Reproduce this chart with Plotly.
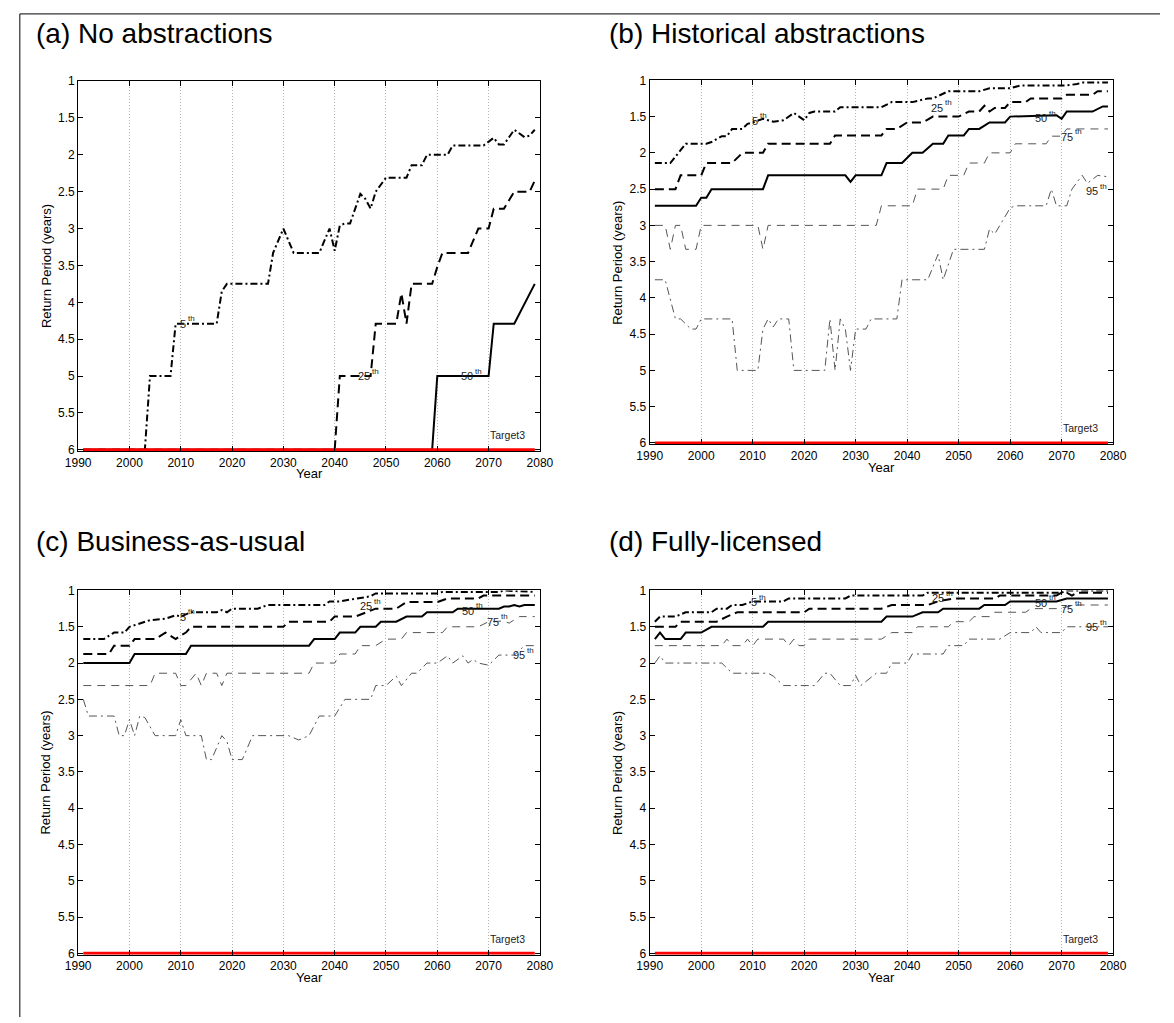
import plotly.graph_objects as go

# ------------------------------------------------------------------
# DATA  (return period in years; vertices of
# each percentile curve, 30-year moving window results)
# ------------------------------------------------------------------
YEAR_TICKS = [1990, 2000, 2010, 2020, 2030, 2040, 2050, 2060, 2070, 2080]
RP_TICKS = [1, 1.5, 2, 2.5, 3, 3.5, 4, 4.5, 5, 5.5, 6]
RP_TICK_LABELS = ["1", "1.5", "2", "2.5", "3", "3.5", "4", "4.5", "5", "5.5", "6"]

PANEL_TITLES = ["(a) No abstractions", "(b) Historical abstractions",
                "(c) Business-as-usual", "(d) Fully-licensed"]
PERCENTILES = ["5", "25", "50", "75", "95"]
ORDINAL_SUFFIX = "th"

TARGET_NAME = "Target3"
TARGET_YEARS = [1991, 2079]
TARGET_RP = [6, 6]

# ---- (a) No abstractions ----
A_P5_YEARS = [1991, 2003, 2004, 2008, 2009, 2017, 2018, 2019, 2027, 2028, 2030, 2032, 2037, 2039, 2040,
              2041, 2042, 2043, 2045, 2046, 2047, 2048, 2050, 2054, 2055, 2057, 2058, 2062, 2063, 2069,
              2071, 2072, 2073, 2075, 2077, 2078, 2079]
A_P5_RP = [6, 6, 5, 5, 4.29, 4.29, 3.85, 3.75, 3.75, 3.33, 3.0, 3.33, 3.33, 3.0, 3.3,
           2.96, 2.93, 2.93, 2.53, 2.6, 2.73, 2.5, 2.31, 2.31, 2.14, 2.14, 2.0, 2.0, 1.875, 1.875,
           1.77, 1.86, 1.86, 1.66, 1.76, 1.74, 1.66]
A_P25_YEARS = [1991, 2040, 2041, 2047, 2048, 2052, 2053, 2054, 2055, 2059, 2060, 2061, 2066, 2068,
               2070, 2071, 2073, 2075, 2078, 2079]
A_P25_RP = [6, 6, 5, 5, 4.29, 4.29, 3.88, 4.29, 3.75, 3.75, 3.52, 3.33, 3.33, 3.0,
            3.0, 2.73, 2.73, 2.5, 2.5, 2.35]
A_P50_YEARS = [1991, 2059, 2060, 2070, 2071, 2075, 2079]
A_P50_RP = [6, 6, 5, 5, 4.29, 4.29, 3.75]
A_P75_YEARS = [1991, 2079]
A_P75_RP = [6, 6]
A_P95_YEARS = [1991, 2079]
A_P95_RP = [6, 6]

# ---- (b) Historical abstractions ----
B_P5_YEARS = [1991, 1994, 1997, 2001, 2002, 2004, 2005, 2006, 2008, 2009, 2010, 2012, 2013, 2014,
              2016, 2018, 2020, 2021, 2022, 2026, 2027, 2035, 2037, 2041, 2044, 2045, 2048, 2054,
              2056, 2060, 2062, 2069, 2071, 2073, 2074, 2079]
B_P5_RP = [2.14, 2.14, 1.875, 1.875, 1.85, 1.77, 1.77, 1.67, 1.67, 1.6, 1.58, 1.53, 1.55, 1.57,
           1.55, 1.45, 1.55, 1.45, 1.43, 1.43, 1.37, 1.37, 1.3, 1.3, 1.25, 1.25, 1.15, 1.15,
           1.11, 1.11, 1.07, 1.07, 1.07, 1.05, 1.03, 1.03]
B_P25_YEARS = [1991, 1995, 1996, 2000, 2001, 2006, 2008, 2012, 2013, 2025, 2026, 2035, 2036, 2038,
               2040, 2043, 2045, 2050, 2052, 2054, 2055, 2056, 2057, 2059, 2060, 2063, 2064, 2070,
               2071, 2076, 2077, 2079]
B_P25_RP = [2.5, 2.5, 2.31, 2.31, 2.14, 2.14, 2.0, 2.0, 1.875, 1.875, 1.76, 1.76, 1.67, 1.67,
            1.58, 1.58, 1.5, 1.5, 1.43, 1.43, 1.35, 1.43, 1.38, 1.38, 1.3, 1.3, 1.25, 1.25,
            1.2, 1.2, 1.15, 1.15]
B_P50_YEARS = [1991, 1999, 2000, 2001, 2002, 2012, 2013, 2028, 2029, 2030, 2035, 2036, 2039, 2041,
               2043, 2045, 2047, 2048, 2051, 2052, 2054, 2056, 2059, 2060, 2069, 2070, 2071, 2076,
               2078, 2079]
B_P50_RP = [2.73, 2.73, 2.62, 2.62, 2.5, 2.5, 2.31, 2.31, 2.4, 2.31, 2.31, 2.14, 2.14, 2.0,
            2.0, 1.875, 1.875, 1.76, 1.76, 1.67, 1.67, 1.58, 1.58, 1.5, 1.48, 1.53, 1.43, 1.43,
            1.36, 1.36]
B_P75_YEARS = [1991, 1993, 1994, 1995, 1996, 1997, 1999, 2000, 2011, 2012, 2013, 2034, 2035, 2041,
               2042, 2047, 2048, 2051, 2052, 2055, 2056, 2060, 2061, 2067, 2068, 2070, 2071, 2079]
B_P75_RP = [3.0, 3.0, 3.33, 3.0, 3.0, 3.33, 3.33, 3.0, 3.0, 3.33, 3.0, 3.0, 2.73, 2.73,
            2.5, 2.5, 2.31, 2.31, 2.14, 2.14, 2.0, 2.0, 1.875, 1.875, 1.77, 1.77, 1.67, 1.67]
B_P95_YEARS = [1991, 1993, 1995, 1996, 1998, 1999, 2000, 2006, 2007, 2011, 2012, 2013, 2014, 2015,
               2017, 2018, 2024, 2025, 2026, 2027, 2028, 2029, 2030, 2032, 2033, 2038, 2039, 2044,
               2046, 2047, 2049, 2055, 2056, 2057, 2060, 2061, 2067, 2068, 2069, 2071, 2072, 2074,
               2075, 2077, 2079]
B_P95_RP = [3.75, 3.75, 4.29, 4.29, 4.43, 4.43, 4.29, 4.29, 5.0, 5.0, 4.43, 4.29, 4.4, 4.29,
            4.29, 5.0, 5.0, 4.29, 5.0, 4.29, 4.43, 5.0, 4.43, 4.43, 4.29, 4.29, 3.75, 3.75,
            3.4, 3.75, 3.33, 3.33, 3.05, 3.12, 2.76, 2.73, 2.73, 2.5, 2.73, 2.73, 2.5, 2.31,
            2.42, 2.31, 2.33]

# ---- (c) Business-as-usual ----
C_P5_YEARS = [1991, 1995, 1997, 1999, 2000, 2002, 2004, 2007, 2009, 2010, 2012, 2017, 2018, 2019,
              2020, 2025, 2027, 2038, 2039, 2041, 2044, 2047, 2048, 2060, 2061, 2072, 2073, 2079]
C_P5_RP = [1.67, 1.67, 1.58, 1.58, 1.5, 1.45, 1.41, 1.39, 1.34, 1.36, 1.3, 1.3, 1.27, 1.3,
           1.25, 1.25, 1.2, 1.2, 1.15, 1.15, 1.12, 1.08, 1.04, 1.04, 1.02, 1.02, 1.0, 1.02]
C_P25_YEARS = [1991, 1996, 1997, 2000, 2001, 2005, 2007, 2009, 2010, 2011, 2012, 2030, 2031, 2039,
               2040, 2044, 2048, 2052, 2054, 2060, 2062, 2068, 2069, 2079]
C_P25_RP = [1.875, 1.875, 1.76, 1.76, 1.67, 1.67, 1.58, 1.67, 1.62, 1.58, 1.5, 1.5, 1.43, 1.43,
            1.36, 1.36, 1.25, 1.25, 1.16, 1.16, 1.11, 1.11, 1.07, 1.07]
C_P50_YEARS = [1991, 2000, 2001, 2011, 2012, 2035, 2036, 2040, 2041, 2044, 2045, 2048, 2049, 2052,
               2054, 2057, 2058, 2063, 2064, 2072, 2073, 2074, 2075, 2076, 2077, 2079]
C_P50_RP = [2.0, 2.0, 1.875, 1.875, 1.76, 1.76, 1.67, 1.67, 1.58, 1.58, 1.5, 1.5, 1.43, 1.43,
            1.36, 1.36, 1.3, 1.3, 1.25, 1.25, 1.22, 1.22, 1.2, 1.22, 1.2, 1.2]
C_P75_YEARS = [1991, 2004, 2005, 2009, 2010, 2011, 2013, 2014, 2015, 2017, 2018, 2019, 2035, 2036,
               2040, 2041, 2044, 2045, 2048, 2050, 2053, 2054, 2061, 2062, 2068, 2070, 2073, 2074,
               2076, 2079]
C_P75_RP = [2.31, 2.31, 2.14, 2.14, 2.31, 2.31, 2.14, 2.31, 2.14, 2.14, 2.31, 2.14, 2.14, 2.0,
            2.0, 1.875, 1.875, 1.76, 1.76, 1.67, 1.67, 1.58, 1.58, 1.5, 1.5, 1.43, 1.42, 1.45,
            1.36, 1.36]
C_P95_YEARS = [1991, 1992, 1997, 1998, 1999, 2000, 2001, 2002, 2003, 2005, 2009, 2010, 2011, 2014,
               2015, 2016, 2018, 2019, 2020, 2022, 2024, 2031, 2033, 2035, 2037, 2040, 2042, 2047,
               2048, 2050, 2052, 2053, 2055, 2056, 2058, 2060, 2062, 2063, 2065, 2066, 2067, 2068,
               2070, 2072, 2075, 2077, 2079]
C_P95_RP = [2.5, 2.73, 2.73, 3.0, 3.0, 2.78, 3.0, 2.73, 2.75, 3.0, 3.0, 2.78, 3.0, 3.0,
            3.33, 3.33, 3.0, 3.08, 3.33, 3.33, 3.0, 3.0, 3.06, 3.0, 2.73, 2.73, 2.5, 2.5,
            2.31, 2.31, 2.18, 2.31, 2.14, 2.14, 2.0, 2.0, 1.9, 2.0, 1.9, 2.0, 1.95, 2.0,
            2.03, 1.89, 1.89, 1.76, 1.76]

# ---- (d) Fully-licensed ----
D_P5_YEARS = [1991, 1992, 1995, 1997, 2002, 2003, 2005, 2006, 2008, 2010, 2016, 2017, 2028, 2029,
              2043, 2044, 2070, 2071, 2079]
D_P5_RP = [1.43, 1.36, 1.36, 1.3, 1.3, 1.25, 1.25, 1.2, 1.2, 1.15, 1.15, 1.11, 1.11, 1.07,
           1.07, 1.03, 1.03, 1.0, 1.0]
D_P25_YEARS = [1991, 1995, 1996, 2003, 2005, 2007, 2020, 2021, 2035, 2037, 2044, 2046, 2049, 2057,
               2058, 2069, 2070, 2071, 2072, 2073, 2079]
D_P25_RP = [1.5, 1.5, 1.43, 1.43, 1.36, 1.3, 1.3, 1.25, 1.25, 1.2, 1.2, 1.15, 1.11, 1.11,
            1.07, 1.07, 1.03, 1.03, 1.07, 1.03, 1.03]
D_P50_YEARS = [1991, 1992, 1993, 1996, 1997, 2000, 2002, 2012, 2013, 2035, 2036, 2041, 2043, 2046,
               2047, 2054, 2055, 2059, 2060, 2069, 2071, 2079]
D_P50_RP = [1.67, 1.58, 1.67, 1.67, 1.58, 1.58, 1.5, 1.5, 1.43, 1.43, 1.36, 1.36, 1.3, 1.3,
            1.25, 1.25, 1.2, 1.2, 1.15, 1.15, 1.11, 1.11]
D_P75_YEARS = [1991, 2004, 2005, 2006, 2008, 2009, 2010, 2011, 2016, 2017, 2018, 2019, 2020, 2021,
               2035, 2037, 2041, 2042, 2048, 2049, 2052, 2053, 2056, 2057, 2063, 2064, 2069, 2071,
               2073, 2079]
D_P75_RP = [1.76, 1.76, 1.67, 1.76, 1.76, 1.67, 1.76, 1.67, 1.67, 1.76, 1.67, 1.76, 1.76, 1.67,
            1.67, 1.58, 1.58, 1.5, 1.5, 1.43, 1.43, 1.36, 1.36, 1.3, 1.3, 1.25, 1.25, 1.22,
            1.2, 1.2]
D_P95_YEARS = [1991, 1992, 1993, 2004, 2006, 2013, 2014, 2016, 2022, 2024, 2025, 2027, 2029, 2030,
               2031, 2034, 2036, 2037, 2040, 2041, 2047, 2048, 2051, 2052, 2058, 2060, 2064, 2065,
               2066, 2070, 2071, 2079]
D_P95_RP = [2.0, 1.9, 2.0, 2.0, 2.14, 2.14, 2.18, 2.31, 2.31, 2.14, 2.14, 2.31, 2.31, 2.17,
            2.31, 2.14, 2.14, 2.0, 2.0, 1.875, 1.875, 1.76, 1.76, 1.67, 1.67, 1.58, 1.58, 1.5,
            1.58, 1.58, 1.5, 1.5]

PANEL_SERIES = [
    [(A_P5_YEARS, A_P5_RP), (A_P25_YEARS, A_P25_RP), (A_P50_YEARS, A_P50_RP),
     (A_P75_YEARS, A_P75_RP), (A_P95_YEARS, A_P95_RP)],
    [(B_P5_YEARS, B_P5_RP), (B_P25_YEARS, B_P25_RP), (B_P50_YEARS, B_P50_RP),
     (B_P75_YEARS, B_P75_RP), (B_P95_YEARS, B_P95_RP)],
    [(C_P5_YEARS, C_P5_RP), (C_P25_YEARS, C_P25_RP), (C_P50_YEARS, C_P50_RP),
     (C_P75_YEARS, C_P75_RP), (C_P95_YEARS, C_P95_RP)],
    [(D_P5_YEARS, D_P5_RP), (D_P25_YEARS, D_P25_RP), (D_P50_YEARS, D_P50_RP),
     (D_P75_YEARS, D_P75_RP), (D_P95_YEARS, D_P95_RP)],
]

# ------------------------------------------------------------------
# STYLE / LAYOUT
# ------------------------------------------------------------------
W, H = 1174, 1023
FONT = "Liberation Sans, Arial, Helvetica, sans-serif"

LINE_STYLE = {
    "5": dict(color="black", width=2, dash="7px,3px,2px,3px"),
    "25": dict(color="black", width=2, dash="9px,5px"),
    "50": dict(color="black", width=2, dash="solid"),
    "75": dict(color="#555555", width=1, dash="8px,6px"),
    "95": dict(color="#555555", width=1, dash="8px,4px,2px,4px"),
}

# plot-area boxes in pixels (left, right, top, bottom)
BOXES = [(66.7, 539.3, 75, 450), (651.7, 1126, 74.3, 443),
         (66.7, 539.3, 591, 960), (651.7, 1126, 591, 960)]
TITLE_POS = [(22, 27), (608, 27), (22, 541), (608, 541)]

# percentile label anchor points (year, return period) per panel
LABEL_POS = [
    {"5": (2011.3, 4.29), "25": (2046.6, 5.0), "50": (2066.6, 5.0)},
    {"5": (2011.2, 1.56), "25": (2046.6, 1.38), "50": (2066.8, 1.52), "75": (2071.9, 1.78), "95": (2076.8, 2.53)},
    {"5": (2011.2, 1.36), "25": (2047.0, 1.22), "50": (2066.8, 1.28), "75": (2071.7, 1.43), "95": (2076.8, 1.89)},
    {"5": (2011.0, 1.16), "25": (2046.8, 1.11), "50": (2066.8, 1.17), "75": (2071.8, 1.25), "95": (2076.8, 1.51)},
]
TARGET_LABEL_POS = (2073.7, 5.8)
LABEL_SIZE = 11
SUP_SIZE = 8

fig = go.Figure()
annotations = []
shapes = []

for i in range(4):
    n = "" if i == 0 else str(i + 1)
    xa, ya = "x" + n, "y" + n
    left, right, top, bottom = BOXES[i]
    xdom = [left / W, right / W]
    ydom = [1 - bottom / H, 1 - top / H]

    for (years, rp), p in zip(PANEL_SERIES[i][::-1], PERCENTILES[::-1]):
        fig.add_trace(go.Scatter(x=years, y=rp, mode="lines", line=LINE_STYLE[p],
                                 xaxis=xa, yaxis=ya, showlegend=False, hoverinfo="skip"))
    fig.add_trace(go.Scatter(x=TARGET_YEARS, y=TARGET_RP, mode="lines",
                             line=dict(color="#ff0000", width=3), xaxis=xa, yaxis=ya,
                             showlegend=False, hoverinfo="skip"))

    common = dict(ticks="inside", ticklen=5, tickcolor="black", tickwidth=1,
                  showline=True, linecolor="black", linewidth=1, mirror="ticks",
                  zeroline=False, fixedrange=True,
                  tickfont=dict(family=FONT, size=12, color="black"))
    fig.layout["xaxis" + n] = dict(domain=xdom, anchor=ya, range=[1990, 2080],
                                   tickmode="array", tickvals=YEAR_TICKS,
                                   ticktext=[str(v) for v in YEAR_TICKS],
                                   showgrid=True, gridcolor="#b4b4b4", griddash="1px,2px",
                                   gridwidth=1, **common)
    fig.layout["yaxis" + n] = dict(domain=ydom, anchor=xa, range=[6.02, 1],
                                   tickmode="array", tickvals=RP_TICKS, ticktext=RP_TICK_LABELS,
                                   showgrid=False, **common)

    # panel title
    tx, ty = TITLE_POS[i]
    annotations.append(dict(text=PANEL_TITLES[i], xref="paper", yref="paper",
                            x=tx / W, y=1 - ty / H, xanchor="left", yanchor="middle",
                            showarrow=False, font=dict(family=FONT, size=28, color="black")))
    # axis titles
    annotations.append(dict(text="Year", xref="paper", yref="paper",
                            x=(left + right) / 2 / W, y=1 - (bottom + 23) / H,
                            xanchor="center", yanchor="middle", showarrow=False,
                            font=dict(family=FONT, size=13, color="black")))
    annotations.append(dict(text="Return Period (years)", xref="paper", yref="paper",
                            x=(left - 33) / W, y=1 - (top + bottom) / 2 / H, textangle=-90,
                            xanchor="center", yanchor="middle", showarrow=False,
                            font=dict(family=FONT, size=13, color="black")))
    # percentile labels: number + raised ordinal suffix
    for p, (lx, ly) in LABEL_POS[i].items():
        num_w = LABEL_SIZE * 0.556 * len(p)
        suf_w = SUP_SIZE * 0.834
        shift = (num_w - suf_w) / 2
        annotations.append(dict(text=p, xref=xa, yref=ya, x=lx, y=ly, xshift=shift,
                                xanchor="right", yanchor="middle", showarrow=False, borderpad=0,
                                font=dict(family=FONT, size=LABEL_SIZE, color="#222222")))
        annotations.append(dict(text=ORDINAL_SUFFIX, xref=xa, yref=ya, x=lx, y=ly, xshift=shift,
                                yshift=5, xanchor="left", yanchor="middle", showarrow=False,
                                borderpad=0,
                                font=dict(family=FONT, size=SUP_SIZE, color="#222222")))
    annotations.append(dict(text=TARGET_NAME, xref=xa, yref=ya, x=TARGET_LABEL_POS[0],
                            y=TARGET_LABEL_POS[1], xanchor="center", yanchor="middle",
                            showarrow=False, font=dict(family=FONT, size=10.5, color="#222222")))

# outer figure frame (top and left edges visible)
shapes.append(dict(type="line", xref="paper", yref="paper", x0=7 / W, x1=1, y0=1 - 7 / H, y1=1 - 7 / H,
                   line=dict(color="black", width=1)))
shapes.append(dict(type="line", xref="paper", yref="paper", x0=7 / W, x1=7 / W, y0=0, y1=1 - 7 / H,
                   line=dict(color="black", width=1)))

fig.update_layout(width=W, height=H, margin=dict(l=0, r=0, t=0, b=0),
                  paper_bgcolor="white", plot_bgcolor="white",
                  font=dict(family=FONT, color="black"),
                  annotations=annotations, shapes=shapes, showlegend=False)

fig.write_html("out.html", config={"displayModeBar": False},
               post_script="document.body.style.margin='0px';document.body.style.overflow='hidden';")
